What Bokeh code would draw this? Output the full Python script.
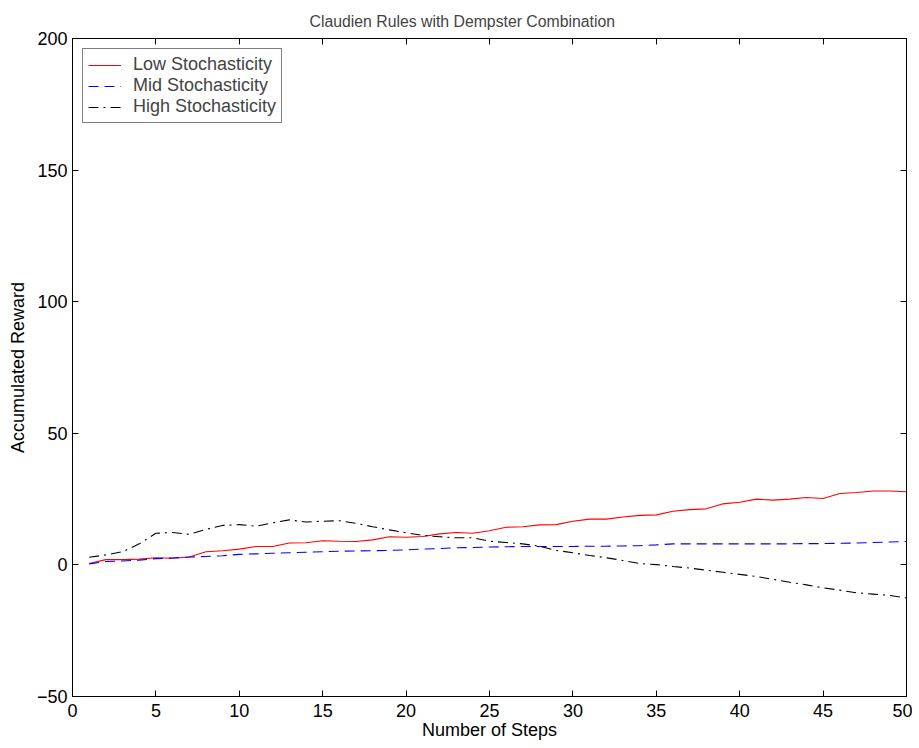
from bokeh.plotting import figure
from bokeh.models import LinearAxis, FixedTicker, CustomJSTickFormatter, Legend, LegendItem
from bokeh.embed import file_html
from bokeh.resources import INLINE

steps = list(range(1, 51))
low = [0.5, 2.0, 2.0, 2.2, 2.7, 2.5, 3.0, 5.0, 5.4, 6.0,
       7.0, 7.0, 8.3, 8.4, 9.2, 9.0, 8.9, 9.5, 10.7, 10.5,
       10.8, 11.8, 12.3, 12.0, 13.0, 14.3, 14.5, 15.2, 15.3, 16.6,
       17.4, 17.4, 18.2, 18.8, 19.0, 20.4, 21.0, 21.3, 23.2, 23.8,
       25.0, 24.6, 25.0, 25.6, 25.2, 27.1, 27.5, 28.1, 28.1, 27.8]
mid = [0.4, 1.3, 1.5, 1.8, 2.4, 2.6, 3.0, 3.2, 3.5, 4.0,
       4.2, 4.4, 4.6, 4.8, 5.0, 5.2, 5.3, 5.4, 5.5, 5.7,
       6.0, 6.2, 6.5, 6.6, 6.8, 6.9, 7.0, 7.0, 7.0, 7.0,
       7.1, 7.1, 7.2, 7.3, 7.6, 8.0, 8.0, 8.0, 8.0, 8.0,
       8.0, 8.0, 8.0, 8.1, 8.1, 8.2, 8.3, 8.5, 8.7, 8.9]
high = [2.9, 3.8, 5.0, 8.0, 12.0, 12.3, 11.6, 13.5, 15.0, 15.3,
        14.7, 16.0, 17.1, 16.3, 16.6, 16.8, 15.8, 14.5, 13.3, 12.2,
        11.2, 10.7, 10.3, 10.3, 9.0, 8.5, 8.0, 7.1, 5.5, 4.6,
        3.6, 2.7, 1.7, 0.5, 0.1, -0.6, -1.2, -2.0, -2.8, -3.6,
        -4.4, -5.5, -6.6, -7.6, -8.7, -9.6, -10.6, -11.1, -11.6, -12.6]

series_names = ["Low Stochasticity", "Mid Stochasticity", "High Stochasticity"]
x_ticks = [0, 5, 10, 15, 20, 25, 30, 35, 40, 45, 50]
y_ticks = [-50, 0, 50, 100, 150, 200]

FONT = "Liberation Sans"
SIZE = "18px"

p = figure(frame_width=834, frame_height=658, x_range=(0, 50), y_range=(-50, 200),
           output_backend="svg", toolbar_location=None,
           min_border_left=72, min_border_top=38, min_border_right=6, min_border_bottom=10,
           title="Claudien Rules with Dempster Combination")
p.title.align = "left"
p.title.offset = 237
p.title.text_font = FONT
p.title.text_font_size = "15.8px"
p.title.text_font_style = "normal"
p.title.standoff = 18

p.xgrid.visible = False
p.ygrid.visible = False
p.outline_line_color = "black"
p.outline_line_width = 1
p.background_fill_color = "white"
p.border_fill_color = "white"

fmt = CustomJSTickFormatter(code="return tick < 0 ? '\u2212' + Math.abs(tick) : String(tick);")
blank = CustomJSTickFormatter(code="return '';")

for ax, ticks in ((p.xaxis[0], x_ticks), (p.yaxis[0], y_ticks)):
    ax.ticker = FixedTicker(ticks=ticks)
    ax.formatter = fmt
    ax.major_tick_in = 6
    ax.major_tick_out = 0
    ax.minor_tick_in = 0
    ax.minor_tick_out = 0
    ax.major_label_text_font = FONT
    ax.major_label_text_font_size = SIZE
    ax.major_label_text_color = "black"
    ax.axis_label_text_font = FONT
    ax.axis_label_text_font_size = SIZE
    ax.axis_label_text_font_style = "normal"
    ax.axis_label_text_color = "black"
    ax.axis_line_color = "black"
    ax.major_tick_line_color = "black"

p.xaxis[0].axis_label = "Number of Steps"
p.yaxis[0].axis_label = "Accumulated Reward"
p.xaxis[0].major_label_standoff = 7
p.xaxis[0].axis_label_standoff = 0
p.yaxis[0].major_label_standoff = 5
p.yaxis[0].axis_label_standoff = 6

for side, ticks in (("right", y_ticks), ("above", x_ticks)):
    ax = LinearAxis(ticker=FixedTicker(ticks=ticks), formatter=blank,
                    major_tick_in=6, major_tick_out=0, minor_tick_in=0, minor_tick_out=0,
                    major_label_standoff=0, axis_line_color="black",
                    major_tick_line_color="black")
    p.add_layout(ax, side)

r1 = p.line(steps, low, line_color="#ff0000", line_width=1.1)
r2 = p.line(steps, mid, line_color="#0000ff", line_width=1.1, line_dash="10 6")
r3 = p.line(steps, high, line_color="#000000", line_width=1.1, line_dash="10 5 2 5")

legend = Legend(items=[LegendItem(label=series_names[0], renderers=[r1]),
                       LegendItem(label=series_names[1], renderers=[r2]),
                       LegendItem(label=series_names[2], renderers=[r3])],
                location="top_left", margin=10, padding=5, spacing=0,
                label_text_font=FONT, label_text_font_size=SIZE,
                label_text_line_height=1.0,
                glyph_width=33, glyph_height=18, label_height=18, label_standoff=12,
                border_line_color="black", border_line_width=1,
                background_fill_color="white", background_fill_alpha=1)
p.add_layout(legend, "center")

open("out.html", "w").write(file_html(p, INLINE))
